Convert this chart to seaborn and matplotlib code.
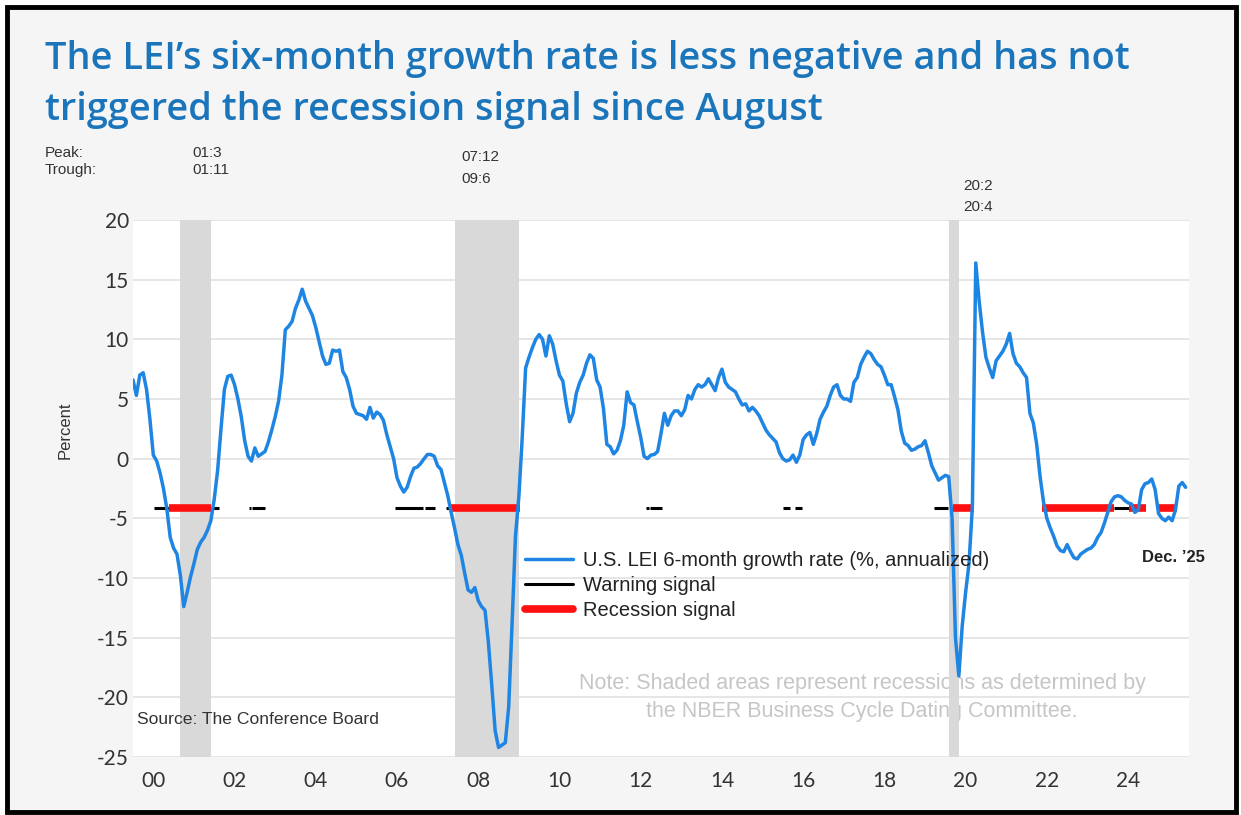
import matplotlib
matplotlib.use("Agg")
import matplotlib.pyplot as plt
from matplotlib.patches import Rectangle
from matplotlib.lines import Line2D
import numpy as np
import pandas as pd
import seaborn as sns

# U.S. LEI six-month growth rate (%, annualized), monthly, Jan 2000 - Dec 2025
lei_2000 = [6.6, 5.3, 7.0, 7.2, 5.8, 3.3, 0.3, -0.2, -1.2, -2.5, -4.2, -6.6]
lei_2001 = [-7.5, -8.0, -9.8, -12.4, -11.2, -9.9, -8.8, -7.6, -7.0, -6.6, -6.0, -5.2]
lei_2002 = [-3.4, -1.0, 2.5, 5.8, 6.9, 7.0, 6.2, 5.0, 3.5, 1.5, 0.2, -0.2]
lei_2003 = [0.9, 0.2, 0.4, 0.6, 1.4, 2.4, 3.5, 4.8, 7.0, 10.8, 11.1, 11.5]
lei_2004 = [12.6, 13.3, 14.2, 13.2, 12.6, 12.0, 11.0, 9.8, 8.6, 7.9, 8.0, 9.1]
lei_2005 = [9.0, 9.1, 7.3, 6.8, 5.8, 4.4, 3.8, 3.7, 3.6, 3.3, 4.3, 3.4]
lei_2006 = [3.9, 3.7, 3.2, 2.0, 1.0, 0.0, -1.6, -2.3, -2.8, -2.4, -1.5, -0.8]
lei_2007 = [-0.7, -0.4, 0.0, 0.35, 0.35, 0.2, -0.6, -0.9, -2.0, -3.1, -4.5, -5.8]
lei_2008 = [-7.2, -8.1, -9.6, -11.0, -11.2, -10.8, -11.9, -12.4, -12.7, -15.4, -19.0, -22.8]
lei_2009 = [-24.2, -24.0, -23.8, -20.8, -13.8, -6.5, -3.2, 1.8, 7.6, 8.5, 9.3, 10.0]
lei_2010 = [10.4, 10.0, 8.6, 10.3, 9.6, 8.2, 7.0, 6.5, 4.6, 3.1, 3.8, 5.5]
lei_2011 = [6.4, 7.0, 8.0, 8.7, 8.4, 6.6, 6.0, 4.2, 1.2, 1.0, 0.4, 0.7]
lei_2012 = [1.5, 2.8, 5.6, 4.7, 4.5, 3.1, 1.8, 0.2, 0.0, 0.3, 0.35, 0.6]
lei_2013 = [2.1, 3.8, 2.8, 3.6, 4.0, 4.0, 3.6, 4.1, 5.3, 5.0, 5.8, 6.2]
lei_2014 = [6.0, 6.2, 6.7, 6.2, 5.7, 6.8, 7.5, 6.4, 6.0, 5.8, 5.6, 5.0]
lei_2015 = [4.5, 4.6, 4.0, 4.3, 4.0, 3.6, 3.0, 2.4, 2.0, 1.7, 1.4, 0.5]
lei_2016 = [0.0, -0.2, -0.1, 0.3, -0.3, 0.3, 1.6, 2.0, 2.2, 1.2, 2.1, 3.3]
lei_2017 = [3.9, 4.4, 5.3, 6.0, 6.2, 5.3, 5.0, 5.0, 4.8, 6.4, 6.8, 7.9]
lei_2018 = [8.5, 9.0, 8.8, 8.3, 7.9, 7.7, 7.0, 6.2, 6.2, 5.2, 4.1, 2.3]
lei_2019 = [1.3, 1.1, 0.7, 0.8, 1.0, 1.1, 1.5, 0.5, -0.6, -1.2, -1.8, -1.6]
lei_2020 = [-1.4, -1.5, -5.0, -15.0, -18.2, -14.0, -11.2, -8.8, -4.0, 16.4, 13.2, 10.6]
lei_2021 = [8.5, 7.6, 6.8, 8.2, 8.6, 9.0, 9.6, 10.5, 8.8, 8.0, 7.7, 7.2]
lei_2022 = [6.8, 3.8, 3.0, 1.2, -1.5, -3.6, -5.0, -5.8, -6.5, -7.3, -7.7, -7.8]
lei_2023 = [-7.2, -7.8, -8.3, -8.4, -8.0, -7.8, -7.6, -7.5, -7.2, -6.6, -6.2, -5.4]
lei_2024 = [-4.5, -3.6, -3.2, -3.1, -3.2, -3.5, -3.7, -3.8, -4.5, -4.3, -2.6, -2.1]
lei_2025 = [-2.0, -1.7, -2.6, -4.6, -5.0, -5.2, -4.9, -5.2, -4.3, -2.3, -2.0, -2.4]

# Signal periods (start, end) in fractional years
warning_periods = [(2000.52, 2000.89), (2001.91, 2002.11), (2002.85, 2002.90),
                   (2002.93, 2003.26), (2006.45, 2007.14), (2007.18, 2007.44),
                   (2007.71, 2007.84), (2012.62, 2012.70), (2012.72, 2013.02),
                   (2016.01, 2016.17), (2016.30, 2016.46), (2019.73, 2020.06),
                   (2024.16, 2024.52)]
recession_periods = [(2000.89, 2001.91), (2007.84, 2009.52), (2020.18, 2020.70),
                     (2022.39, 2024.16), (2024.52, 2024.93), (2025.20, 2025.71)]
signal_level = -4.1

# NBER business-cycle peaks and troughs (yy:month)
cycle_peaks = ["01:3", "07:12", "20:2"]
cycle_troughs = ["01:11", "09:6", "20:4"]

y_ticks = [-25, -20, -15, -10, -5, 0, 5, 10, 15, 20]
x_tick_labels = ["00", "02", "04", "06", "08", "10", "12", "14", "16", "18", "20", "22", "24"]

series = (lei_2000 + lei_2001 + lei_2002 + lei_2003 + lei_2004 + lei_2005 + lei_2006
          + lei_2007 + lei_2008 + lei_2009 + lei_2010 + lei_2011 + lei_2012 + lei_2013
          + lei_2014 + lei_2015 + lei_2016 + lei_2017 + lei_2018 + lei_2019 + lei_2020
          + lei_2021 + lei_2022 + lei_2023 + lei_2024 + lei_2025)
df = pd.DataFrame({"year": 2000 + np.arange(len(series)) / 12.0, "lei": series})


def cycle_date(label, end=False):
    yy, mm = label.split(":")
    return 2000 + int(yy) + (int(mm) - (0 if end else 1)) / 12.0


sns.set_style("white")
plt.rcParams["font.family"] = ["Liberation Sans", "DejaVu Sans"]

W, H = 1241, 815
fig = plt.figure(figsize=(W / 100, H / 100), dpi=100)
fig.patch.set_facecolor("white")
fig.add_artist(Rectangle((7 / W, 1 - 812 / H), (1236 - 7) / W, (812 - 7) / H,
                         transform=fig.transFigure, facecolor="#f5f5f5",
                         edgecolor="black", lw=3.5, zorder=-10))


def fx(px):
    return px / W


def fy(py):
    return 1 - py / H


ax = fig.add_axes([fx(133), fy(757), (1189 - 133) / W, (757 - 220) / H])
ax.set_facecolor("white")

for pk, tr in zip(cycle_peaks, cycle_troughs):
    ax.axvspan(cycle_date(pk), cycle_date(tr, end=True), color="#d9d9d9", lw=0, zorder=1)

sns.lineplot(data=df, x="year", y="lei", ax=ax, color="#1f85e3", lw=2.5, zorder=5,
             legend=False)

ax.hlines([signal_level] * len(warning_periods), [s for s, e in warning_periods],
          [e for s, e in warning_periods], color="black", lw=2.2, zorder=3)
ax.hlines([signal_level] * len(recession_periods), [s for s, e in recession_periods],
          [e for s, e in recession_periods], color="#ff1010", lw=5.5, zorder=4)

ax.set_xlim(2000, 2026)
ax.set_ylim(-25, 20)
ax.set_yticks(y_ticks)
ax.set_yticklabels([str(v) for v in y_ticks], fontsize=15, color="#333333", family="Lato")
ax.yaxis.grid(True, color="#e2e2e2", lw=1.2)
ax.set_axisbelow(True)
ax.tick_params(axis="y", length=0, pad=3)

ax.set_xticks(np.arange(2000, 2027))
ax.set_xticklabels([])
ax.tick_params(axis="x", which="major", direction="in", length=6, width=1,
               color="#c8c8c8")
ax.set_xticks([2000.5 + 2 * i for i in range(len(x_tick_labels))], minor=True)
ax.set_xticklabels(x_tick_labels, minor=True, fontsize=15, color="#333333", family="Lato")
ax.tick_params(axis="x", which="minor", length=0, pad=10)
ax.set_xlabel("")
ax.set_ylabel("")
for sp in ax.spines.values():
    sp.set_visible(False)

fig.text(fx(65), fy(430), "Percent", rotation=90, ha="center", va="center",
         fontsize=12, color="#333333")

# Title
title_kw = dict(fontsize=27.3, color="#1b75bb", family="Open Sans", weight="semibold",
                ha="left", va="baseline")
fig.text(fx(45), fy(69), "The LEI\u2019s six-month growth rate is less negative and has not",
         **title_kw)
fig.text(fx(45), fy(120), "triggered the recession signal since August", **title_kw)

# Peak / trough annotations
small = dict(fontsize=11, color="#333333", va="center", ha="left")
fig.text(fx(45), fy(153), "Peak:", **small)
fig.text(fx(45), fy(170), "Trough:", **small)
fig.text(fx(192), fy(153), cycle_peaks[0], **small)
fig.text(fx(192), fy(170), cycle_troughs[0], **small)
fig.text(fx(461), fy(157), cycle_peaks[1], **small)
fig.text(fx(461), fy(179), cycle_troughs[1], **small)
fig.text(fx(963), fy(186), cycle_peaks[2], **small)
fig.text(fx(963), fy(207), cycle_troughs[2], **small)

# Legend
handles = [Line2D([], [], color="#1f85e3", lw=2.5),
           Line2D([], [], color="black", lw=2.2),
           Line2D([], [], color="#ff1010", lw=5.5, solid_capstyle="round")]
labels = ["U.S. LEI 6-month growth rate (%, annualized)", "Warning signal",
          "Recession signal"]
fig.legend(handles, labels, loc="upper left", bbox_to_anchor=(fx(525), fy(551)),
           frameon=False, fontsize=14.5, handlelength=2.4, handletextpad=0.5,
           labelspacing=0.3, borderpad=0, borderaxespad=0, labelcolor="#222222")

fig.text(fx(1142), fy(558), "Dec. \u201925", fontsize=12, weight="bold",
         color="#222222", ha="left", va="center")

note_kw = dict(fontsize=15.5, color="#c6c6c6", ha="center", va="center",
               transform=fig.transFigure, zorder=0.8)
ax.text(fx(862), fy(684), "Note: Shaded areas represent recessions as determined by", **note_kw)
ax.text(fx(862), fy(712), "the NBER Business Cycle Dating Committee.", **note_kw)
ax.text(fx(137), fy(720), "Source: The Conference Board", fontsize=12.6, color="#333333",
        ha="left", va="center", transform=fig.transFigure, zorder=6)

fig.savefig("out.png", dpi=100, facecolor=fig.get_facecolor())
